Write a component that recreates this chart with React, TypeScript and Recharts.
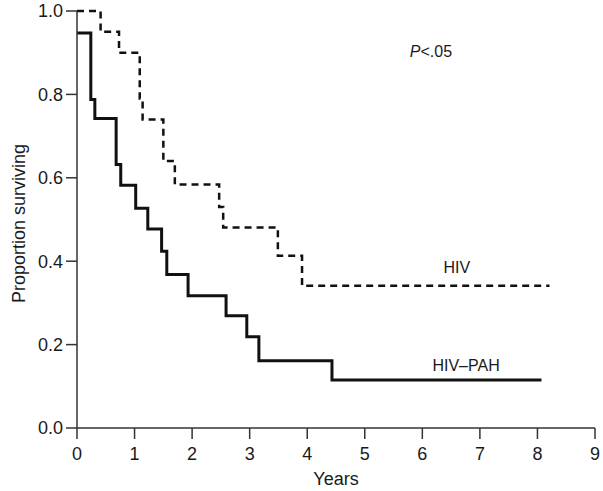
import React from "react";
import { LineChart, Line, XAxis, YAxis, ReferenceDot } from "recharts";

// Kaplan-Meier steps, [years, proportion surviving]
const hivTimes = [0, 0.41, 0.73, 1.09, 1.14, 1.5, 1.7, 2.47, 2.54, 3.49, 3.91, 8.21];
const hivSurv = [1.0, 0.95, 0.9, 0.79, 0.74, 0.64, 0.584, 0.53, 0.481, 0.413, 0.341, 0.341];

const pahTimes = [0, 0.24, 0.31, 0.68, 0.76, 1.02, 1.23, 1.47, 1.56, 1.93, 2.59, 2.95, 3.16, 4.43, 8.07];
const pahSurv = [0.947, 0.788, 0.742, 0.632, 0.582, 0.527, 0.477, 0.424, 0.368, 0.317, 0.269, 0.219, 0.161, 0.115, 0.115];

const xTicks = [0, 1, 2, 3, 4, 5, 6, 7, 8, 9];
const yTicks = [0, 0.2, 0.4, 0.6, 0.8, 1.0];

const hivData = hivTimes.map((t, i) => ({ t, s: hivSurv[i] }));
const pahData = pahTimes.map((t, i) => ({ t, s: pahSurv[i] }));

const FONT = "'Liberation Sans', Arial, Helvetica, sans-serif";
const INK = "#1a1a1a";

const textLabel = (value: string) => (props: any) => {
  const vb = props.viewBox || {};
  const cx = (vb.x ?? 0) + (vb.width ?? 0) / 2;
  const cy = (vb.y ?? 0) + (vb.height ?? 0) / 2;
  return (
    <text x={cx} y={cy} dy="0.35em" textAnchor="middle" fontFamily={FONT} fontSize={16} fill={INK}>
      {value}
    </text>
  );
};

const pLabel = (props: any) => {
  const vb = props.viewBox || {};
  const cx = (vb.x ?? 0) + (vb.width ?? 0) / 2;
  const cy = (vb.y ?? 0) + (vb.height ?? 0) / 2;
  return (
    <text x={cx} y={cy} dy="0.35em" textAnchor="middle" fontFamily={FONT} fontSize={16} fill={INK}>
      <tspan fontStyle="italic">P</tspan>
      <tspan>{"<.05"}</tspan>
    </text>
  );
};

const yAxisTitle = (props: any) => {
  const vb = props.viewBox || {};
  const x = 19;
  const y = (vb.y ?? 0) + (vb.height ?? 0) / 2 + 4;
  return (
    <text
      x={x}
      y={y}
      dy="0.35em"
      textAnchor="middle"
      transform={`rotate(-90 ${x} ${y})`}
      fontFamily={FONT}
      fontSize={18}
      fill={INK}
    >
      Proportion surviving
    </text>
  );
};

export default function App() {
  return (
    <div style={{ position: "absolute", left: 0, top: 0, background: "#fff" }}>
      <LineChart width={603} height={491} margin={{ top: 11, right: 8, left: 0, bottom: 0 }}>
        <XAxis
          dataKey="t"
          type="number"
          domain={[0, 9]}
          ticks={xTicks}
          allowDuplicatedCategory={false}
          stroke="#333"
          strokeWidth={1.5}
          tickSize={11}
          tickMargin={8}
          height={63}
          tick={{ fontSize: 18, fontFamily: FONT, fill: INK }}
          label={{ value: "Years", position: "insideBottom", offset: 6, fontSize: 18, fontFamily: FONT, fill: INK }}
        />
        <YAxis
          dataKey="s"
          type="number"
          domain={[0, 1]}
          ticks={yTicks}
          tickFormatter={(v: number) => v.toFixed(1)}
          stroke="#333"
          strokeWidth={1.5}
          tickSize={11}
          tickMargin={3}
          width={77}
          tick={{ fontSize: 18, fontFamily: FONT, fill: INK }}
          label={{ content: yAxisTitle }}
        />
        <Line
          data={hivData}
          dataKey="s"
          type="stepAfter"
          stroke="#111"
          strokeWidth={2.5}
          strokeDasharray="7 5"
          dot={false}
          isAnimationActive={false}
        />
        <Line
          data={pahData}
          dataKey="s"
          type="stepAfter"
          stroke="#111"
          strokeWidth={3}
          dot={false}
          isAnimationActive={false}
        />
        <ReferenceDot x={6.6} y={0.386} r={0} fill="none" stroke="none" label={{ content: textLabel("HIV") }} />
        <ReferenceDot x={6.76} y={0.151} r={0} fill="none" stroke="none" label={{ content: textLabel("HIV\u2013PAH") }} />
        <ReferenceDot x={6.15} y={0.904} r={0} fill="none" stroke="none" label={{ content: pLabel }} />
      </LineChart>
    </div>
  );
}
